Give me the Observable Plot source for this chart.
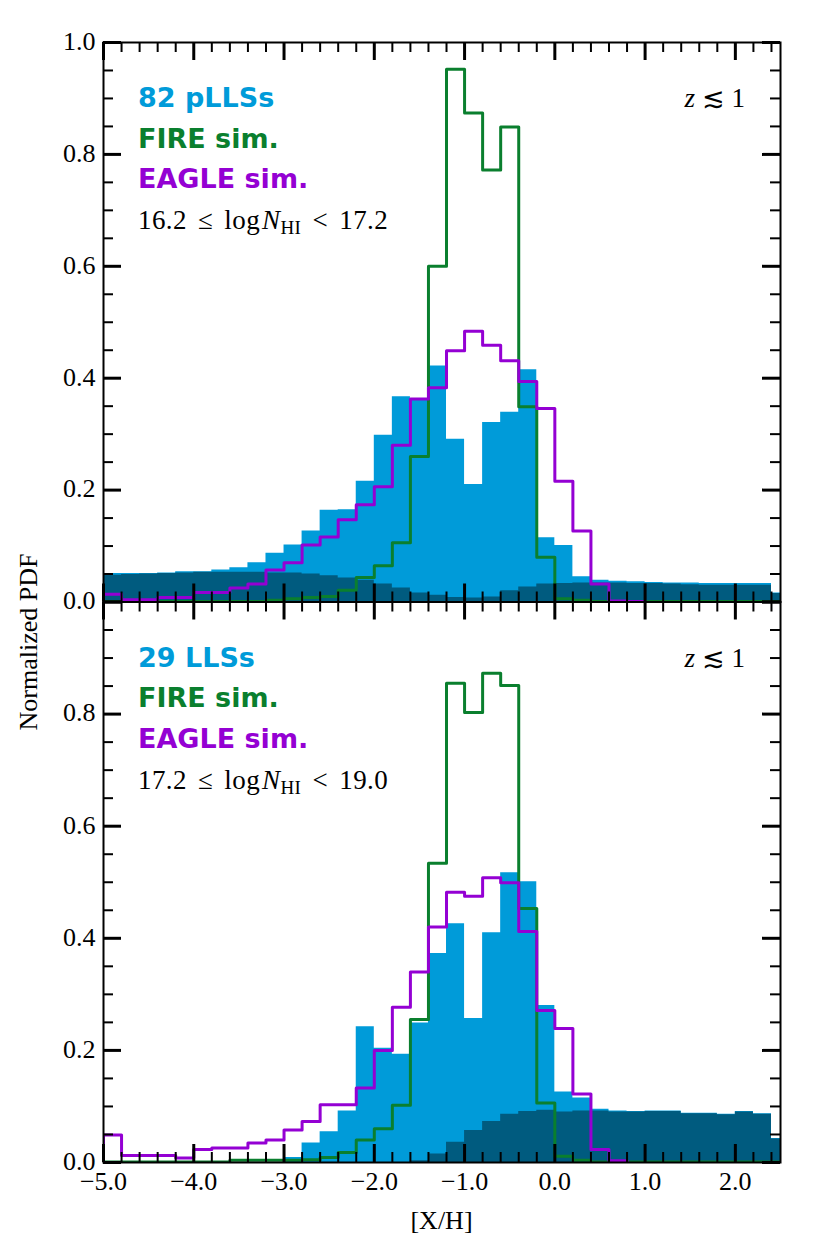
<!DOCTYPE html>
<html><head><meta charset="utf-8">
<script src="https://cdn.jsdelivr.net/npm/d3@7"></script>
<script src="https://cdn.jsdelivr.net/npm/@observablehq/plot@0.6"></script>
<style>
html,body{margin:0;padding:0;background:#fff;}
#wrap{position:relative;width:830px;height:1246px;overflow:hidden;}
#wrap svg{position:absolute;left:0;top:0;}
</style></head><body><div id="wrap"></div>
<script>
// ---- data ----
const binStarts = [-5.0,-4.8,-4.6,-4.4,-4.2,-4.0,-3.8,-3.6,-3.4,-3.2,-3.0,-2.8,-2.6,-2.4,-2.2,-2.0,-1.8,-1.6,-1.4,-1.2,-1.0,-0.8,-0.6,-0.4,-0.2,0.0,0.2,0.4,0.6,0.8,1.0,1.2,1.4,1.6,1.8,2.0,2.2,2.4];
const binWidth = 0.2;

// top panel: 16.2 <= logN_HI < 17.2
const topObs  = [0.051,0.051,0.051,0.052,0.054,0.054,0.057,0.061,0.070,0.087,0.102,0.127,0.164,0.165,0.216,0.298,0.367,0.361,0.422,0.291,0.210,0.321,0.339,0.415,0.115,0.101,0.045,0.039,0.037,0.036,0.035,0.034,0.034,0.033,0.033,0.033,0.033,0.016];
const topDark = [0.048,0.049,0.050,0.051,0.052,0.053,0.053,0.053,0.053,0.052,0.052,0.050,0.047,0.043,0.039,0.032,0.025,0.016,0.012,0.008,0.007,0.009,0.020,0.027,0.032,0.033,0.034,0.034,0.034,0.033,0.033,0.032,0.031,0.030,0.030,0.030,0.030,0.015];
const topFire = [0.001,0.001,0.001,0.001,0.001,0.001,0.001,0.001,0.001,0.003,0.006,0.008,0.010,0.021,0.044,0.065,0.106,0.260,0.600,0.952,0.874,0.772,0.849,0.349,0.080,0.006,0.003,0.001,0.001,0.001,0.001,0.001,0.001,0.001,0.001,0.001,0.001,0.001];
const topEagle= [0.014,0.004,0.004,0.008,0.008,0.017,0.017,0.025,0.032,0.057,0.070,0.102,0.116,0.147,0.174,0.206,0.280,0.363,0.383,0.449,0.484,0.459,0.431,0.394,0.346,0.216,0.127,0.032,0.002,0.001,null,null,null,null,null,null,null,null];

// bottom panel: 17.2 <= logN_HI < 19.0
const botObs  = [0,0,0,0,0,0,0,0,0,0,0.009,0.035,0.055,0.092,0.242,0.204,0.193,0.249,0.373,0.426,0.257,0.410,0.517,0.501,0.280,0.126,0.115,0.095,0.092,0.091,0.092,0.092,0.088,0.088,0.086,0.091,0.087,0.043];
const botDark = [0,0,0,0,0,0,0,0,0,0,0,0,0,0,0,0,0,0.003,0.015,0.036,0.057,0.073,0.086,0.091,0.093,0.090,0.092,0.092,0.090,0.090,0.091,0.091,0.087,0.087,0.085,0.090,0.086,0.042];
const botFire = [0.001,0.001,0.001,0.001,0.001,0.001,0.001,0.004,0.004,0.004,0.004,0.005,0.009,0.018,0.040,0.060,0.102,0.255,0.534,0.855,0.803,0.873,0.851,0.453,0.106,0.011,0.004,0.001,0.001,0.001,0.001,0.001,0.001,0.001,0.001,0.001,0.001,0.001];
const botEagle= [0.049,0.0125,0.0125,0.0125,0.008,0.023,0.026,0.026,0.035,0.040,0.058,0.073,0.103,0.103,0.133,0.200,0.277,0.340,0.420,0.482,0.475,0.508,0.499,0.412,0.271,0.239,0.122,0.023,0.003,null,null,null,null,null,null,null,null,null];

const xMajorTicks = [-5,-4,-3,-2,-1,0,1,2];
const yTopTickLabels = [0,0.2,0.4,0.6,0.8,1.0];
const yBotTickLabels = [0,0.2,0.4,0.6,0.8];
const yMajorTicks = [0,0.2,0.4,0.6,0.8,1.0];
const topLegend = ["82 pLLSs","FIRE sim.","EAGLE sim."];
const botLegend = ["29 LLSs","FIRE sim.","EAGLE sim."];
const topRange = ["16.2","17.2"];
const botRange = ["17.2","19.0"];

const xMinorTicks = d3.range(-50, 25, 2).map(v => v/10).filter(v => Math.abs(v - Math.round(v)) > 1e-9);
const yMinorTicks = d3.range(1, 20).map(v => v/20).filter(v => Math.abs(v*5 - Math.round(v*5)) > 1e-9);

const LIGHT = "#009bd9", DARK = "#005b7f", GREEN = "#0a7f2e", PURPLE = "#9400d3";
const SERIF = "Liberation Serif, DejaVu Serif, serif";
const SANS = "DejaVu Sans, sans-serif";

function stepPoints(vals) {
  let first = vals.findIndex(v => v != null);
  let last = vals.length - 1; while (vals[last] == null) last--;
  const pts = [{x: binStarts[first], y: 0}];
  for (let i = first; i <= last; i++) pts.push({x: binStarts[i], y: vals[i]});
  pts.push({x: binStarts[last] + binWidth, y: vals[last]});
  pts.push({x: binStarts[last] + binWidth, y: 0});
  return pts;
}

const W = 830, H = 1246, ML = 103, MR = 50;
const fmt = d3.format(".1f");

function panel({obs, dark, fire, eagle, yTop, yBottom, yLabels, showX}) {
  const fw = W - ML - MR, fh = yBottom - yTop;
  const maj = 18, mnr = 10;
  const marks = [
    Plot.areaY(stepPoints(obs), {x: "x", y: "y", curve: "step-after", fill: LIGHT, clip: true}),
    Plot.areaY(stepPoints(dark), {x: "x", y: "y", curve: "step-after", fill: DARK, clip: true}),
    Plot.line(stepPoints(fire), {x: "x", y: "y", curve: "step-after", stroke: GREEN, strokeWidth: 3, clip: true}),
    Plot.line(stepPoints(eagle), {x: "x", y: "y", curve: "step-after", stroke: PURPLE, strokeWidth: 3, clip: true}),
    Plot.frame({stroke: "black", strokeWidth: 2}),
    // x ticks (inward, bottom and top)
    Plot.tickX(xMajorTicks, {x: d => d, insetTop: fh - maj, stroke: "black", strokeWidth: 3}),
    Plot.tickX(xMajorTicks, {x: d => d, insetBottom: fh - maj, stroke: "black", strokeWidth: 3}),
    Plot.tickX(xMinorTicks, {x: d => d, insetTop: fh - mnr, stroke: "black", strokeWidth: 2}),
    Plot.tickX(xMinorTicks, {x: d => d, insetBottom: fh - mnr, stroke: "black", strokeWidth: 2}),
    // y ticks (inward, left and right)
    Plot.tickY(yMajorTicks, {y: d => d, insetRight: fw - maj, stroke: "black", strokeWidth: 3}),
    Plot.tickY(yMajorTicks, {y: d => d, insetLeft: fw - maj, stroke: "black", strokeWidth: 3}),
    Plot.tickY(yMinorTicks, {y: d => d, insetRight: fw - mnr, stroke: "black", strokeWidth: 2}),
    Plot.tickY(yMinorTicks, {y: d => d, insetLeft: fw - mnr, stroke: "black", strokeWidth: 2}),
    // y tick labels
    Plot.text(yLabels, {y: d => d, frameAnchor: "left", dx: -8, dy: -1, textAnchor: "end", lineAnchor: "middle",
      text: d => fmt(d), fontFamily: SERIF, fontSize: 26, fill: "black"})
  ];
  if (showX) {
    marks.push(Plot.text(xMajorTicks, {x: d => d, frameAnchor: "bottom", dy: 19, lineAnchor: "middle",
      textAnchor: "middle", text: d => fmt(d), fontFamily: SERIF, fontSize: 26, fill: "black"}));
  }
  return Plot.plot({
    width: W, height: H,
    marginLeft: ML, marginRight: MR, marginTop: yTop, marginBottom: H - yBottom,
    x: {domain: [-5, 2.5], axis: null},
    y: {domain: [0, 1], axis: null},
    style: {background: "transparent", overflow: "visible"},
    marks
  });
}

function annotate(svg, {yTop, legend, range}) {
  const s = d3.select(svg);
  const colors = [LIGHT, GREEN, PURPLE];
  legend.forEach((t, i) => {
    s.append("text").attr("x", 138).attr("y", yTop + 65 + 40.7 * i).attr("text-anchor", "start")
      .attr("font-family", SANS).attr("font-weight", "bold").attr("font-size", 27)
      .attr("fill", colors[i]).text(t);
  });
  const m = s.append("text").attr("x", 138).attr("y", yTop + 187).attr("text-anchor", "start")
    .attr("font-family", SERIF).attr("font-size", 27).attr("fill", "black")
    .attr("word-spacing", 4).attr("letter-spacing", 0.4);
  m.append("tspan").text(range[0] + " \u2264 log");
  m.append("tspan").attr("font-style", "italic").attr("dx", 2).text("N");
  m.append("tspan").attr("font-size", 19).attr("dy", 5).text("HI");
  m.append("tspan").attr("dy", -5).text(" < " + range[1]);
  const z = s.append("text").attr("x", 745).attr("y", yTop + 65).attr("text-anchor", "end")
    .attr("font-family", SERIF).attr("font-size", 27).attr("fill", "black");
  z.append("tspan").attr("font-style", "italic").text("z");
  z.append("tspan").text(" \u2272 1");
}

const wrap = document.getElementById("wrap");
const topSvg = panel({obs: topObs, dark: topDark, fire: topFire, eagle: topEagle, yTop: 42, yBottom: 601.5, yLabels: yTopTickLabels, showX: false});
const botSvg = panel({obs: botObs, dark: botDark, fire: botFire, eagle: botEagle, yTop: 601.5, yBottom: 1162, yLabels: yBotTickLabels, showX: true});
wrap.appendChild(topSvg);
wrap.appendChild(botSvg);
annotate(topSvg, {yTop: 42, legend: topLegend, range: topRange});
annotate(botSvg, {yTop: 601.5, legend: botLegend, range: botRange});

const b = d3.select(botSvg);
b.append("text").attr("transform", "translate(37,642) rotate(-90)").attr("text-anchor", "middle")
  .attr("font-family", SERIF).attr("font-size", 26).attr("fill", "black").text("Normalized PDF");
b.append("text").attr("x", 441.5).attr("y", 1229).attr("text-anchor", "middle")
  .attr("font-family", SERIF).attr("font-size", 26).attr("fill", "black").text("[X/H]");
</script></body></html>
